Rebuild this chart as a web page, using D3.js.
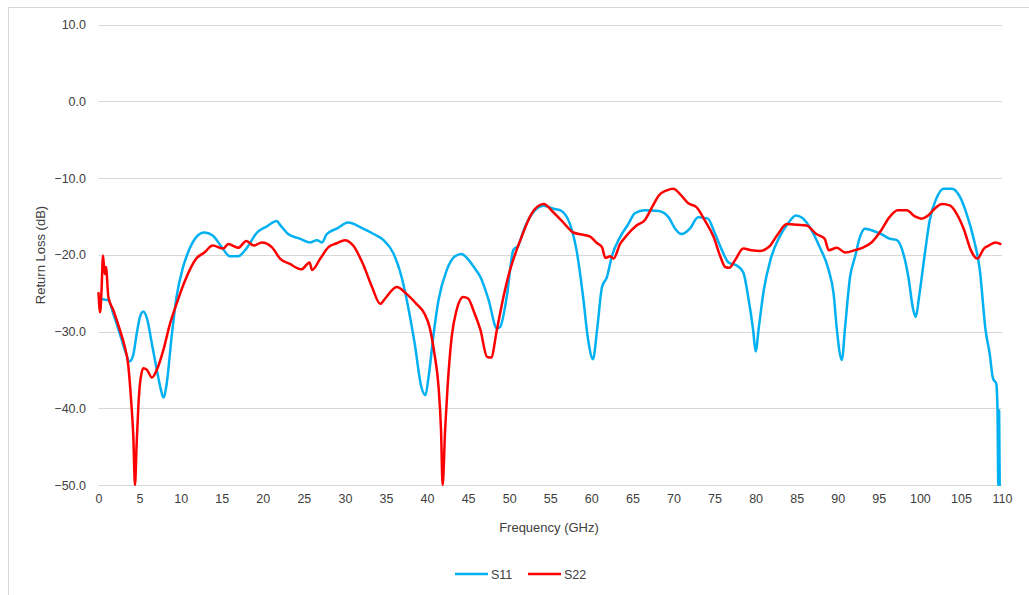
<!DOCTYPE html>
<html>
<head>
<meta charset="utf-8">
<script src="https://cdn.jsdelivr.net/npm/d3@7"></script>
<style>
  html, body { margin: 0; padding: 0; background: #fff; }
  svg { display: block; }
  text { font-family: "Liberation Sans", "DejaVu Sans", sans-serif; fill: #404040; }
</style>
</head>
<body>
<svg id="chart" width="1029" height="595"></svg>
<script>
const seriesNames = ["S11", "S22"];
const seriesColors = ["#00B0F0", "#FF0000"];
const xTicks = d3.range(0, 111, 5);
const yTicks = [10, 0, -10, -20, -30, -40, -50];

const s11Freq = [0.1,0.5,1.2,1.8,2.6,3.2,3.8,4.24,4.65,5.05,5.46,5.9,6.5,7.1,7.6,7.9,8.3,8.9,9.5,10.3,11.1,11.9,12.9,13.9,15,16,17,18,19.3,20.5,21.7,22.1,23.1,24.5,25.7,26.6,27.2,27.8,29,30.4,32.2,33.5,34.7,35.9,36.9,37.7,38.5,39.3,39.8,40.2,40.8,41.4,42.4,43.4,44.2,45,45.7,46.5,47.5,48.5,48.9,49.7,50.5,51.1,51.9,52.9,54.2,55.4,56.2,57.4,58.2,59,59.6,60.2,60.7,61.3,61.9,62.5,63.5,64.5,65.3,66.5,68.2,69.4,70.2,71,72,73,74.2,75,75.9,76.7,77.7,78.5,79.1,79.7,80,80.4,81,81.8,82.9,83.9,84.9,85.7,86.7,87.8,88.9,89.5,89.9,90.5,90.9,91.5,92.1,92.7,93.3,94.1,95.3,96.3,97.2,98,98.6,99.2,99.5,99.9,100.6,101.2,102,102.9,103.9,104.9,105.7,106.5,107.3,108,108.5,108.9,109.3,109.45,109.55,109.65,109.72];
const s11Values = [-25.5,-25.8,-25.9,-27.7,-30.3,-32.4,-33.9,-33,-30.3,-28.1,-27.4,-28.3,-31.6,-35,-37.6,-38.6,-36.8,-30.7,-25.5,-21.6,-19.2,-17.7,-17.1,-17.5,-19,-20.2,-20.2,-19.2,-17.1,-16.3,-15.6,-16.1,-17.3,-17.9,-18.4,-18.1,-18.4,-17.3,-16.6,-15.8,-16.6,-17.3,-18.1,-19.8,-22.9,-26.8,-31.6,-37.2,-38.3,-35.8,-30.3,-25.9,-22,-20.2,-19.9,-20.6,-21.6,-22.9,-25.9,-29.6,-29.4,-25.5,-19.4,-18.8,-16.4,-14.5,-13.6,-14,-14.2,-16,-19.4,-25.5,-31,-33.6,-29.8,-24.2,-22.9,-20.2,-17.7,-16,-14.6,-14.2,-14.3,-15.1,-16.6,-17.3,-16.6,-15.1,-15.3,-17.1,-19.4,-21,-21.4,-22.3,-25.5,-29.8,-32.6,-29.4,-24.6,-20.7,-17.7,-16,-14.9,-15.2,-16.6,-19,-22,-25.1,-29.8,-33.7,-29.4,-22.9,-20.3,-17.7,-16.6,-16.8,-17.3,-17.9,-18.1,-19.9,-22.9,-27.2,-28.1,-25.5,-19.9,-15.5,-12.7,-11.4,-11.4,-12.5,-14.7,-17.7,-22,-29.8,-32.9,-36.1,-36.8,-40,-50,-40.3,-50];

const s22Freq = [0,0.2,0.37,0.55,0.75,0.91,1.2,1.8,2.6,3.2,3.6,4.0,4.24,4.44,4.65,4.85,5.05,5.46,5.9,6.5,7.1,7.9,8.7,9.5,10.3,11.1,11.9,12.9,13.9,15.2,15.8,17,18,18.9,19.9,21.1,22.1,23.3,24.7,25.7,26,27,28,29,30,31,32.2,33.3,34.3,34.9,36.3,37.5,38.7,39.7,40.3,40.9,41.4,41.7,41.9,42.2,42.5,43,43.6,44.4,45,45.7,46.5,47.3,47.8,48.5,49.3,50.1,50.7,51.5,52.7,54.2,55.4,56.6,57.8,59,59.8,60.6,61.3,61.7,62.3,62.7,63.5,64.3,65.5,66.5,67.4,68.2,69.2,70,70.8,71.8,72.8,73.8,74.9,75.7,76.3,76.8,77.5,78.5,79.5,80.5,81.6,82.6,83.8,85.1,86.2,87.4,88.4,88.9,89.9,90.9,92.1,93.2,94.1,95.3,96.3,97.3,98.4,99.4,100.2,101,101.8,102.7,103.7,104.5,105.4,106.2,107,107.8,108.4,109.2,109.8];
const s22Values = [-25,-27.5,-24.6,-20.1,-22.5,-21.6,-25.5,-27.2,-29.8,-32,-34.2,-39.4,-43.7,-50,-44.5,-39.8,-36.8,-34.8,-35,-36,-35,-32.4,-29,-26.4,-24,-22,-20.5,-19.7,-18.8,-19.2,-18.6,-19.1,-18.2,-18.8,-18.4,-19,-20.5,-21.2,-21.9,-21,-22,-20.5,-19,-18.5,-18.1,-18.8,-21.2,-24.2,-26.4,-25.7,-24.2,-25.1,-26.4,-27.7,-29.4,-32.9,-37.2,-42.8,-50,-42.8,-37.2,-30.7,-27.2,-25.5,-25.7,-27.4,-29.8,-33.3,-33.4,-29.8,-25.5,-22,-20,-17.7,-14.7,-13.4,-14.5,-15.8,-17.1,-17.4,-17.6,-18.4,-19,-20.4,-20.2,-20.5,-18.6,-17.5,-16.2,-15.5,-13.8,-12.3,-11.6,-11.4,-12.1,-13.3,-13.8,-15.5,-17.7,-20.2,-21.6,-21.7,-20.7,-19.2,-19.4,-19.5,-19,-17.5,-16,-16.1,-16.2,-17.3,-17.9,-19.4,-19.1,-19.7,-19.4,-19,-18.4,-16.8,-15.1,-14.2,-14.2,-15,-15.3,-14.9,-14,-13.4,-13.6,-14.7,-16.8,-19.4,-20.5,-19.2,-18.8,-18.4,-18.6];

const svg = d3.select("#chart");
const W = 1029, H = 595;

// chart area border
svg.append("rect").attr("x", 8.5).attr("y", 7.5).attr("width", 1030).attr("height", 600)
  .attr("fill", "#fff").attr("stroke", "#D9D9D9").attr("stroke-width", 1);

const x = d3.scaleLinear().domain([0, 110]).range([98.5, 1002]);
const y = d3.scaleLinear().domain([-50, 10]).range([485, 24.5]);

// gridlines
svg.append("g").selectAll("line").data(yTicks).join("line")
  .attr("x1", x(0)).attr("x2", x(110))
  .attr("y1", d => Math.round(y(d)) + 0.5).attr("y2", d => Math.round(y(d)) + 0.5)
  .attr("stroke", "#D9D9D9").attr("stroke-width", 1);

// y tick labels
const yAxis = d3.axisLeft(y).tickValues(yTicks).tickFormat(d3.format(".1f")).tickSize(0).tickPadding(0);
const gy = svg.append("g").attr("transform", "translate(86,0)").call(yAxis);
gy.select(".domain").remove();
gy.selectAll("text").attr("font-size", "12.5px").attr("fill", "#404040")
  .attr("font-family", "Liberation Sans, sans-serif");

// x tick labels
const xAxis = d3.axisBottom(x).tickValues(xTicks).tickFormat(d3.format("d")).tickSize(0).tickPadding(0);
const gx = svg.append("g").attr("transform", "translate(0,494)").call(xAxis);
gx.select(".domain").remove();
gx.selectAll("text").attr("font-size", "12.5px").attr("fill", "#404040")
  .attr("font-family", "Liberation Sans, sans-serif");

// axis titles
svg.append("text").attr("x", 549).attr("y", 532).attr("text-anchor", "middle")
  .attr("font-size", "13px").text("Frequency (GHz)");
svg.append("text").attr("transform", "translate(45,255) rotate(-90)").attr("text-anchor", "middle")
  .attr("font-size", "13px").text("Return Loss (dB)");

// clip
svg.append("clipPath").attr("id", "plotclip").append("rect")
  .attr("x", x(0) - 2).attr("y", y(10)).attr("width", x(110) - x(0) + 4).attr("height", y(-50) - y(10) + 1);

const line = d3.line().x(d => x(d[0])).y(d => y(d[1])).curve(d3.curveMonotoneX);
const series = [
  d3.zip(s11Freq, s11Values),
  d3.zip(s22Freq, s22Values)
];
const gl = svg.append("g").attr("clip-path", "url(#plotclip)");
series.forEach((pts, i) => {
  gl.append("path").datum(pts).attr("d", line)
    .attr("fill", "none").attr("stroke", seriesColors[i]).attr("stroke-width", 2.5)
    .attr("stroke-linejoin", "round").attr("stroke-linecap", "round");
});

// legend
const legendX = [455, 528];
const lg = svg.append("g");
seriesNames.forEach((name, i) => {
  lg.append("line").attr("x1", legendX[i]).attr("x2", legendX[i] + 33)
    .attr("y1", 574).attr("y2", 574).attr("stroke", seriesColors[i]).attr("stroke-width", 2.5);
  lg.append("text").attr("x", legendX[i] + 36).attr("y", 578.5).attr("font-size", "12.5px").text(name);
});
</script>
</body>
</html>
